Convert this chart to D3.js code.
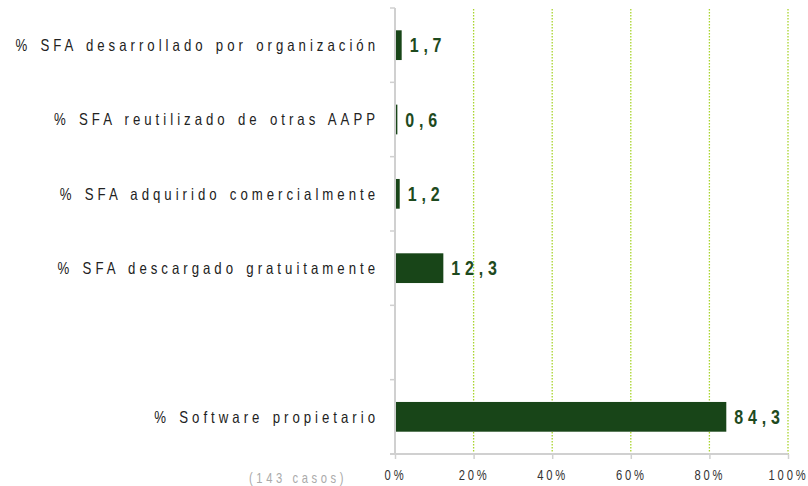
<!DOCTYPE html>
<html>
<head>
  <meta charset="utf-8">
  <script src="https://d3js.org/d3.v7.min.js"></script>
  <style>
    body { margin: 0; background: #fff; }
    text { font-family: "Liberation Sans", Arial, sans-serif; }
  </style>
</head>
<body>
<div id="chart"></div>
<script>
// categories, top to bottom (empty slot kept as a gap)
var categories = [
  "% SFA desarrollado por organización",
  "% SFA reutilizado de otras AAPP",
  "% SFA adquirido comercialmente",
  "% SFA descargado gratuitamente",
  "",
  "% Software propietario"
];
var values = [1.7, 0.6, 1.2, 12.3, null, 84.3];
var ticks = [0, 20, 40, 60, 80, 100];

var W = 808, H = 486;
var margin = {top: 8, right: 20, bottom: 32, left: 395};
var width = 788 - margin.left,
    height = 454 - margin.top;
var narrow = 0.8; // squeeze glyphs like a condensed face

var svg = d3.select("#chart").append("svg")
  .attr("width", W).attr("height", H);

var g = svg.append("g")
  .attr("transform", "translate(" + margin.left + "," + margin.top + ")");

var x = d3.scaleLinear().domain([0, 100]).range([0, width]);
var keys = categories.map(function(d, i) { return i; });
var y = d3.scaleBand().domain(keys).range([0, height]).paddingInner(0.6).paddingOuter(0.3);

// gridlines
g.selectAll(".grid")
  .data(ticks.slice(1))
  .enter().append("line")
  .attr("x1", function(d) { return x(d); })
  .attr("x2", function(d) { return x(d); })
  .attr("y1", 1).attr("y2", height)
  .attr("stroke", "#a8d42c")
  .attr("stroke-width", 1.3)
  .attr("stroke-dasharray", "1.5,1.5");

// bars
var rows = values.map(function(v, i) { return {i: i, v: v}; })
  .filter(function(d) { return d.v != null; });

g.selectAll(".bar")
  .data(rows)
  .enter().append("rect")
  .attr("x", x(0))
  .attr("y", function(d) { return y(d.i); })
  .attr("width", function(d) { return x(d.v); })
  .attr("height", y.bandwidth())
  .attr("fill", "#184518");

// value labels
g.selectAll(".val")
  .data(rows)
  .enter().append("text")
  .attr("transform", function(d) {
    return "translate(" + (x(d.v) + 8) + "," + (y(d.i) + y.bandwidth() / 2) + ") scale(" + narrow + ",1)";
  })
  .attr("dy", "0.36em")
  .attr("fill", "#1e4a1e")
  .style("font-size", "20px")
  .style("font-weight", "bold")
  .style("letter-spacing", "6px")
  .text(function(d) { return String(d.v).replace(".", ","); });

// y axis line and band-boundary ticks
var step = height / categories.length;
g.append("line")
  .attr("x1", 0).attr("x2", 0).attr("y1", 0).attr("y2", height)
  .attr("stroke", "#d0d0d0").attr("stroke-width", 2);
d3.range(categories.length).forEach(function(i) {
  g.append("line")
    .attr("x1", -5).attr("x2", 0)
    .attr("y1", i * step).attr("y2", i * step)
    .attr("stroke", "#d0d0d0").attr("stroke-width", 1.5);
});

// category labels
g.selectAll(".cat")
  .data(categories.map(function(c, i) { return {i: i, c: c}; }).filter(function(d) { return d.c; }))
  .enter().append("text")
  .attr("transform", function(d) {
    return "translate(-16," + (y(d.i) + y.bandwidth() / 2) + ") scale(" + narrow + ",1)";
  })
  .attr("dy", "0.36em")
  .attr("text-anchor", "end")
  .attr("fill", "#222")
  .style("font-size", "16.5px")
  .style("letter-spacing", "5px")
  .style("word-spacing", "2px")
  .text(function(d) { return d.c; });

// x axis
var xAxis = g.append("g")
  .attr("transform", "translate(0," + height + ")")
  .call(d3.axisBottom(x).tickValues(ticks).tickFormat(function(d) { return d + "%"; }).tickSize(5).tickSizeOuter(0));
xAxis.select(".domain").attr("stroke", "#d0d0d0").attr("stroke-width", 2)
  .attr("d", "M-5,0H" + width);
xAxis.selectAll(".tick line").attr("stroke", "#d0d0d0").attr("stroke-width", 1.5);
xAxis.selectAll(".tick text")
  .attr("y", 16)
  .attr("transform", "scale(" + narrow + ",1)")
  .attr("fill", "#333")
  .style("font-size", "14px")
  .style("letter-spacing", "3.5px")
  .style("font-family", "'Liberation Sans', Arial, sans-serif");

// footnote
svg.append("text")
  .attr("transform", "translate(298,483) scale(" + narrow + ",1)")
  .attr("text-anchor", "middle")
  .attr("fill", "#aaa")
  .style("font-size", "14px")
  .style("letter-spacing", "4.5px")
  .text("(143 casos)");
</script>
</body>
</html>
